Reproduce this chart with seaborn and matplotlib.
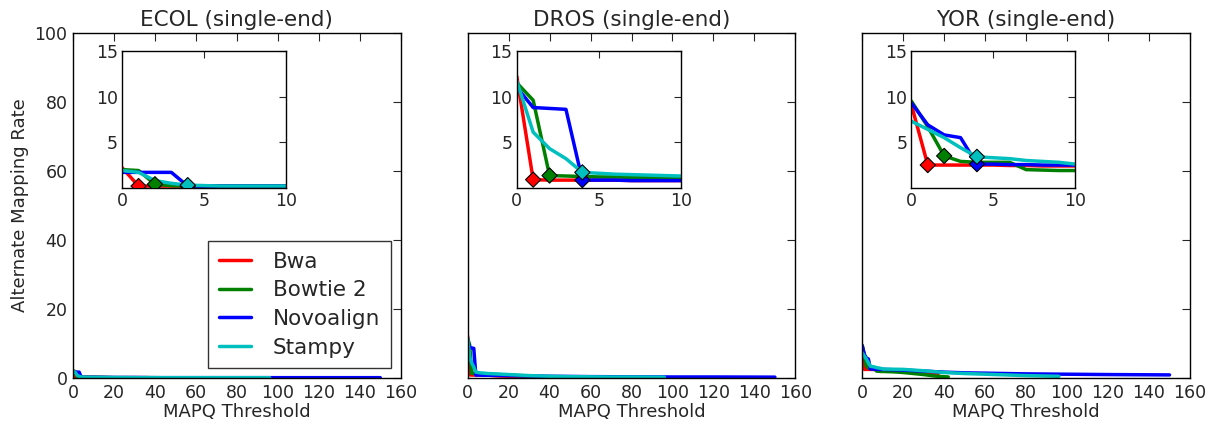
import numpy as np
import pandas as pd
import matplotlib
matplotlib.use("Agg")
import matplotlib.pyplot as plt
import seaborn as sns

# Aligners and their colours / marker thresholds
TOOLS = ["Bwa", "Bowtie 2", "Novoalign", "Stampy"]
COLORS = ["#ff0000", "#008000", "#0000ff", "#00bfbf"]
MARK_AT = [1, 2, 4, 4]   # MAPQ threshold highlighted with a diamond

DATASETS = ["ECOL", "DROS", "YOR"]

# MAPQ thresholds sampled for each aligner
BWA_X = [0, 1, 2, 3, 4, 5, 6, 7, 8, 9, 10, 15, 20, 25, 30, 37]
BT2_X = [0, 1, 2, 3, 4, 5, 6, 7, 8, 9, 10, 15, 20, 25, 30, 35, 42]
NOVO_X = [0, 1, 2, 3, 4, 5, 6, 7, 8, 9, 10, 20, 30, 40, 50, 60, 80, 100, 120, 150]
STAMPY_X = [0, 1, 2, 3, 4, 5, 6, 7, 8, 9, 10, 20, 30, 40, 50, 60, 70, 80, 96]

# ECOL alternate mapping rates
ECOL_BWA = [2.2, 0.2, 0.2, 0.2, 0.2, 0.2, 0.2, 0.2, 0.2, 0.2, 0.2, 0.15, 0.1, 0.1, 0.1, 0.1]
ECOL_BT2 = [2.0, 1.9, 0.4, 0.25, 0.2, 0.2, 0.2, 0.2, 0.2, 0.2, 0.2, 0.15, 0.1, 0.1, 0.1, 0.1, 0.1]
ECOL_NOVO = [1.7, 1.7, 1.7, 1.7, 0.2, 0.2, 0.2, 0.2, 0.2, 0.2, 0.2, 0.15, 0.15, 0.1, 0.1, 0.1, 0.1, 0.1, 0.1, 0.1]
ECOL_STAMPY = [1.9, 1.7, 0.8, 0.5, 0.3, 0.25, 0.2, 0.2, 0.2, 0.2, 0.2, 0.15, 0.1, 0.1, 0.1, 0.1, 0.1, 0.1, 0.1]

# DROS alternate mapping rates
DROS_BWA = [12.2, 0.9, 0.85, 0.85, 0.85, 0.85, 0.85, 0.8, 0.8, 0.8, 0.8, 0.6, 0.5, 0.4, 0.3, 0.2]
DROS_BT2 = [11.5, 9.6, 1.35, 1.3, 1.25, 1.2, 1.2, 1.15, 1.15, 1.1, 1.1, 1.0, 0.9, 0.7, 0.6, 0.4, 0.3]
DROS_NOVO = [11.0, 8.8, 8.7, 8.6, 0.85, 0.85, 0.85, 0.8, 0.8, 0.8, 0.8, 0.7, 0.6, 0.5, 0.45, 0.4, 0.35, 0.3, 0.3, 0.25]
DROS_STAMPY = [11.7, 6.1, 4.3, 3.2, 1.7, 1.6, 1.5, 1.45, 1.4, 1.35, 1.3, 1.0, 0.7, 0.5, 0.4, 0.35, 0.3, 0.3, 0.25]

# YOR alternate mapping rates
YOR_BWA = [9.1, 2.5, 2.5, 2.5, 2.5, 2.5, 2.45, 2.45, 2.4, 2.4, 2.4, 2.2, 2.0, 1.8, 1.5, 1.2]
YOR_BT2 = [9.5, 6.7, 3.5, 2.9, 2.8, 2.8, 2.8, 2.0, 1.95, 1.9, 1.9, 1.8, 1.6, 1.3, 1.0, 0.6, 0.3]
YOR_NOVO = [9.3, 6.9, 5.8, 5.5, 2.6, 2.6, 2.55, 2.55, 2.5, 2.5, 2.5, 2.3, 2.0, 1.7, 1.5, 1.4, 1.2, 1.1, 1.0, 0.9]
YOR_STAMPY = [7.3, 6.4, 5.5, 4.4, 3.4, 3.3, 3.2, 3.0, 2.9, 2.8, 2.6, 2.5, 2.1, 1.6, 1.3, 1.1, 0.9, 0.7, 0.5]

TOOL_X = [BWA_X, BT2_X, NOVO_X, STAMPY_X]
RATES = {
    "ECOL": [ECOL_BWA, ECOL_BT2, ECOL_NOVO, ECOL_STAMPY],
    "DROS": [DROS_BWA, DROS_BT2, DROS_NOVO, DROS_STAMPY],
    "YOR": [YOR_BWA, YOR_BT2, YOR_NOVO, YOR_STAMPY],
}


def build_frame(name):
    """Long-form frame of (tool, mapq, rate) for one dataset."""
    rows = []
    for tool, xs, ys in zip(TOOLS, TOOL_X, RATES[name]):
        for x, y in zip(xs, ys):
            rows.append((tool, x, y))
    return pd.DataFrame(rows, columns=["tool", "mapq", "rate"])


def marker_frame(name):
    """One highlighted point per aligner."""
    rows = []
    for tool, xs, ys, m in zip(TOOLS, TOOL_X, RATES[name], MARK_AT):
        rows.append((tool, m, ys[xs.index(m)]))
    return pd.DataFrame(rows, columns=["tool", "mapq", "rate"])


sns.set_style("white")
plt.rcParams["font.family"] = ["DejaVu Sans"]
palette = dict(zip(TOOLS, COLORS))

fig, axes = plt.subplots(1, 3, figsize=(12.21, 4.28), dpi=100, sharey=True)
fig.subplots_adjust(left=0.0598, right=0.9746, top=0.923, bottom=0.1168, wspace=0.204)

for i, (ax, name) in enumerate(zip(axes, DATASETS)):
    df = build_frame(name)
    sns.lineplot(data=df, x="mapq", y="rate", hue="tool", hue_order=TOOLS,
                 palette=palette, linewidth=2.5, estimator=None, sort=False,
                 legend=(i == 0), ax=ax)
    ax.set_xlim(0, 160)
    ax.set_ylim(0, 100)
    ax.set_xticks(np.arange(0, 161, 20))
    ax.set_yticks(np.arange(0, 101, 20))
    ax.set_title(f"{name} (single-end)", fontsize=15.5, pad=5)
    ax.set_xlabel("MAPQ Threshold", fontsize=13, labelpad=1)
    ax.set_ylabel("Alternate Mapping Rate" if i == 0 else "", fontsize=13)
    ax.tick_params(direction="in", top=True, right=True, labelsize=12.5,
                   length=6, width=0.8, pad=4)
    for s in ax.spines.values():
        s.set_color("black")
        s.set_linewidth(1.0)

    if i == 0:
        leg = ax.legend(loc="lower right", fontsize=15.5, frameon=True,
                        fancybox=False, borderaxespad=0.45, handlelength=1.5,
                        handletextpad=1.0, labelspacing=0.4, borderpad=0.5)
        leg.get_frame().set_edgecolor("black")
        leg.get_frame().set_linewidth(1.0)
        for line in leg.get_lines():
            line.set_linewidth(2.5)

    # zoomed inset on the first MAPQ thresholds
    ins = ax.inset_axes([0.15, 0.551, 0.5, 0.397])
    sns.lineplot(data=df, x="mapq", y="rate", hue="tool", hue_order=TOOLS,
                 palette=palette, linewidth=2.5, estimator=None, sort=False,
                 legend=False, ax=ins)
    sns.scatterplot(data=marker_frame(name), x="mapq", y="rate", hue="tool",
                    hue_order=TOOLS, palette=palette, marker="D", s=60,
                    edgecolor="black", linewidth=0.8, legend=False, zorder=5,
                    ax=ins)
    ins.set_xlim(0, 10)
    ins.set_ylim(0, 15)
    ins.set_xticks([0, 5, 10])
    ins.set_yticks([5, 10, 15])
    ins.set_xlabel("")
    ins.set_ylabel("")
    ins.tick_params(direction="in", top=True, right=True, labelsize=12.5,
                    length=5, width=0.8, pad=3)
    for s in ins.spines.values():
        s.set_color("black")
        s.set_linewidth(1.0)

fig.savefig("out.png", dpi=100)
